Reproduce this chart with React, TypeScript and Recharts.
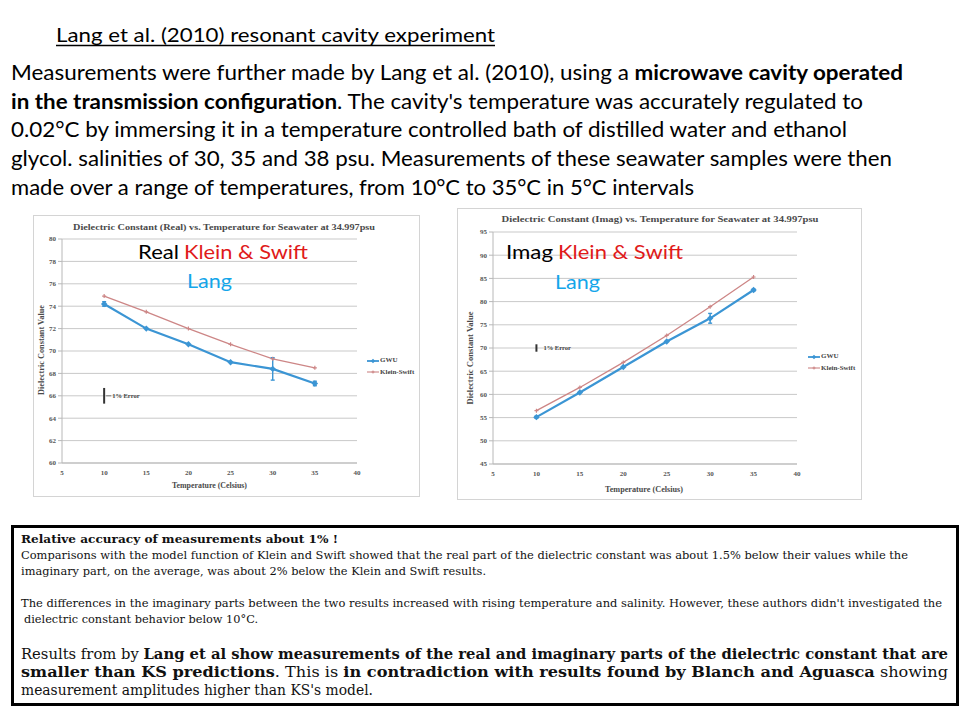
import React from "react";
import {
  LineChart,
  Line,
  XAxis,
  YAxis,
  CartesianGrid,
  ErrorBar,
  ReferenceLine,
  Legend,
} from "recharts";

const temps = [10, 15, 20, 25, 30, 35];
const xTicks = [5, 10, 15, 20, 25, 30, 35, 40];

const realGwu = [74.2, 72.0, 70.6, 69.0, 68.4, 67.1];
const realKs = [74.9, 73.5, 72.0, 70.6, 69.3, 68.5];
const realGwuErr = [0.2, 0, 0, 0, 1.0, 0.2];
const realTicks = [60, 62, 64, 66, 68, 70, 72, 74, 76, 78, 80];
const realOnePct = [65.3, 66.7];

const imagGwu = [55.1, 60.4, 65.9, 71.4, 76.4, 82.5];
const imagKs = [56.5, 61.5, 66.9, 72.7, 78.9, 85.3];
const imagGwuErr = [0.2, 0, 0, 0, 1.05, 0.2];
const imagTicks = [45, 50, 55, 60, 65, 70, 75, 80, 85, 90, 95];
const imagOnePct = [69.2, 70.8];

const onePctX = 10;

const BLUE = "#3b95d4";
const ROSE = "#cd8686";
const GRID = "#c9c9c9";
const SERIF = "'Liberation Serif', 'Times New Roman', serif";
const SANS = "Lato, 'Open Sans', sans-serif";
const CAMBRIA = "'DejaVu Serif', serif";

const realRows = temps.map((t, i) => ({ t, gwu: realGwu[i], ks: realKs[i], err: realGwuErr[i] }));
const imagRows = temps.map((t, i) => ({ t, gwu: imagGwu[i], ks: imagKs[i], err: imagGwuErr[i] }));

const tickStyle = { fontSize: 7, fontFamily: SERIF, fontWeight: 700, fill: "#555" };

const Diamond = (props: any) => {
  const { cx, cy } = props;
  if (cx == null || cy == null) return null;
  const r = 3.2;
  return <path d={`M${cx},${cy - r}L${cx + r},${cy}L${cx},${cy + r}L${cx - r},${cy}Z`} fill={BLUE} />;
};

const Cross = (props: any) => {
  const { cx, cy } = props;
  if (cx == null || cy == null) return null;
  const r = 2;
  return (
    <path
      d={`M${cx - r},${cy}L${cx + r},${cy}M${cx},${cy - r}L${cx},${cy + r}`}
      stroke={ROSE}
      strokeWidth={1.2}
    />
  );
};

const LegendBox = (props: any) => (
  <div style={{ fontFamily: SERIF, fontSize: 7, fontWeight: 700, color: "#444", lineHeight: "11.5px" }}>
    {(props.payload || []).map((p: any) => (
      <div key={p.value} style={{ display: "flex", alignItems: "center", whiteSpace: "nowrap" }}>
        <svg width={12} height={6} style={{ display: "block" }}>
          <line x1={0} x2={12} y1={3} y2={3} stroke={p.color} strokeWidth={p.value === "GWU" ? 1.8 : 1.1} />
          {p.value === "GWU" ? (
            <path d="M6,0.8L8.2,3L6,5.2L3.8,3Z" fill={p.color} />
          ) : (
            <path d="M4.5,3L7.5,3M6,1.5L6,4.5" stroke={p.color} strokeWidth={1} />
          )}
        </svg>
        <span style={{ marginLeft: 1 }}>{p.value}</span>
      </div>
    ))}
  </div>
);

const onePctLabel = (withDash: boolean) => (props: any) => {
  const vb = props.viewBox || {};
  const x = vb.x ?? 0;
  const cy = (vb.y ?? 0) + (vb.height ?? 0) / 2;
  return (
    <g>
      {withDash && <line x1={x + 2} x2={x + 7} y1={cy} y2={cy} stroke="#666" strokeWidth={0.8} />}
      <text x={x + (withDash ? 8 : 7)} y={cy} dy="0.35em" fontSize={6.5} fontWeight={700} fontFamily={SERIF} fill="#444">
        1% Error
      </text>
    </g>
  );
};

type PanelProps = {
  rows: any[];
  yTicks: number[];
  onePct: number[];
  width: number;
  height: number;
  margin: any;
  yWidth: number;
  legendPos: { left: number; top: number };
  dash: boolean;
};

function Panel({ rows, yTicks, onePct, width, height, margin, yWidth, legendPos, dash }: PanelProps) {
  const domain: [number, number] = [yTicks[0], yTicks[yTicks.length - 1]];
  return (
    <LineChart width={width} height={height} data={rows} margin={margin}>
      <CartesianGrid vertical={false} stroke={GRID} />
      <XAxis
        type="number"
        dataKey="t"
        domain={[5, 40]}
        ticks={xTicks}
        tick={tickStyle}
        tickLine={false}
        tickSize={6}
        tickMargin={1}
        axisLine={{ stroke: "#b8b8b8" }}
        height={20}
        interval={0}
      />
      <YAxis
        domain={domain}
        ticks={yTicks}
        tick={tickStyle}
        tickSize={4}
        tickMargin={2}
        tickLine={{ stroke: "#b8b8b8" }}
        axisLine={{ stroke: "#b8b8b8" }}
        width={yWidth}
        interval={0}
      />
      <YAxis
        yAxisId="r"
        orientation="right"
        domain={domain}
        tick={false}
        tickLine={false}
        axisLine={{ stroke: "#d0d0d0" }}
        width={0}
      />
      <ReferenceLine
        segment={[
          { x: onePctX, y: onePct[0] },
          { x: onePctX, y: onePct[1] },
        ]}
        stroke="#333"
        strokeWidth={2}
        label={{ content: onePctLabel(dash) }}
      />
      <Line
        dataKey="ks"
        name="Klein-Swift"
        stroke={ROSE}
        strokeWidth={1.3}
        dot={<Cross />}
        activeDot={false}
        isAnimationActive={false}
      />
      <Line
        dataKey="gwu"
        name="GWU"
        stroke={BLUE}
        strokeWidth={2.2}
        dot={<Diamond />}
        activeDot={false}
        isAnimationActive={false}
      >
        <ErrorBar dataKey="err" direction="y" width={2} stroke={BLUE} strokeWidth={1.4} />
      </Line>
      <Legend
        layout="vertical"
        align="center"
        verticalAlign="middle"
        content={<LegendBox />}
        itemSorter={(item: any) => (item.value === "GWU" ? 0 : 1)}
        wrapperStyle={{ left: legendPos.left, top: legendPos.top, width: "auto", height: "auto" }}
      />
    </LineChart>
  );
}

export default function App() {
  return (
    <div style={{ position: "absolute", left: 0, top: 0, width: 960, height: 720, background: "#fff", overflow: "hidden" }}>
      <div
        style={{
          position: "absolute",
          left: 33,
          top: 215,
          width: 387,
          height: 282,
          border: "1px solid #d4d4d4",
          boxSizing: "border-box",
        }}
      >
        <Panel
          rows={realRows}
          yTicks={realTicks}
          onePct={realOnePct}
          width={385}
          height={280}
          margin={{ top: 23, right: 62, bottom: 13, left: 6 }}
          yWidth={22}
          legendPos={{ left: 333, top: 139 }}
          dash
        />
      </div>
      <div
        style={{
          position: "absolute",
          left: 457,
          top: 208,
          width: 405,
          height: 292,
          border: "1px solid #d4d4d4",
          boxSizing: "border-box",
        }}
      >
        <Panel
          rows={imagRows}
          yTicks={imagTicks}
          onePct={imagOnePct}
          width={403}
          height={290}
          margin={{ top: 23, right: 64, bottom: 15, left: 10 }}
          yWidth={25}
          legendPos={{ left: 350, top: 142 }}
          dash={false}
        />
      </div>

      <svg width={960} height={720} style={{ position: "absolute", left: 0, top: 0, pointerEvents: "none" }}>
        {/* slide heading + paragraph */}
        <g fontFamily={SANS} fill="#000">
          <text x={56} y={42} fontSize={20} textLength={439} lengthAdjust="spacingAndGlyphs">
            Lang et al. (2010) resonant cavity experiment
          </text>
          <line x1={56} x2={495} y1={45.5} y2={45.5} stroke="#000" strokeWidth={1.3} />
          <g fontSize={21}>
            <text x={11} y={80} textLength={892} lengthAdjust="spacingAndGlyphs">
              Measurements were further made by Lang et al. (2010), using a{" "}
              <tspan fontWeight={700}>microwave cavity operated</tspan>
            </text>
            <text x={11} y={108.7} textLength={852} lengthAdjust="spacingAndGlyphs">
              <tspan fontWeight={700}>in the transmission configuration</tspan>. The cavity's temperature was accurately
              regulated to
            </text>
            <text x={11} y={137.4} textLength={836} lengthAdjust="spacingAndGlyphs">
              0.02°C by immersing it in a temperature controlled bath of distilled water and ethanol
            </text>
            <text x={11} y={166.1} textLength={881} lengthAdjust="spacingAndGlyphs">
              glycol. salinities of 30, 35 and 38 psu. Measurements of these seawater samples were then
            </text>
            <text x={11} y={194.8} textLength={683} lengthAdjust="spacingAndGlyphs">
              made over a range of temperatures, from 10°C to 35°C in 5°C intervals
            </text>
          </g>
        </g>

        {/* chart titles and axis names */}
        <g fontFamily={SERIF} fontWeight={700} fill="#4a4a4a" textAnchor="middle">
          <text x={224} y={230} fontSize={9} textLength={302} lengthAdjust="spacingAndGlyphs">
            Dielectric Constant (Real) vs. Temperature for Seawater at 34.997psu
          </text>
          <text x={660} y={222} fontSize={9} textLength={317} lengthAdjust="spacingAndGlyphs">
            Dielectric Constant (Imag) vs. Temperature for Seawater at 34.997psu
          </text>
          <text x={209.5} y={488} fontSize={8} textLength={75} lengthAdjust="spacingAndGlyphs">
            Temperature (Celsius)
          </text>
          <text x={644} y={492} fontSize={8} textLength={78} lengthAdjust="spacingAndGlyphs">
            Temperature (Celsius)
          </text>
          <text transform="translate(44,350) rotate(-90)" fontSize={8} textLength={90} lengthAdjust="spacingAndGlyphs">
            Dielectric Constant Value
          </text>
          <text transform="translate(473,358) rotate(-90)" fontSize={8} textLength={93} lengthAdjust="spacingAndGlyphs">
            Dielectric Constant Value
          </text>
        </g>

        {/* overlay notes on the charts */}
        <g fontFamily={SANS} fontSize={20}>
          <text x={138} y={259} fill="#000" textLength={41} lengthAdjust="spacingAndGlyphs">Real</text>
          <text x={184} y={259} fill="#e01a1a" textLength={124} lengthAdjust="spacingAndGlyphs">Klein &amp; Swift</text>
          <text x={187} y={288} fill="#14a6ea" textLength={45} lengthAdjust="spacingAndGlyphs">Lang</text>
          <text x={506} y={259} fill="#000" textLength={47} lengthAdjust="spacingAndGlyphs">Imag</text>
          <text x={558} y={259} fill="#e01a1a" textLength={125} lengthAdjust="spacingAndGlyphs">Klein &amp; Swift</text>
          <text x={555} y={289} fill="#14a6ea" textLength={45} lengthAdjust="spacingAndGlyphs">Lang</text>
        </g>

        {/* bottom box */}
        <rect x={12.5} y={526.5} width={945} height={178} fill="none" stroke="#000" strokeWidth={3} />
        <g fontFamily={CAMBRIA} fill="#111">
          <g fontSize={11.5}>
            <text x={21} y={543} fontWeight={700} textLength={317} lengthAdjust="spacingAndGlyphs">
              Relative accuracy of measurements about 1% !
            </text>
            <text x={21} y={559} textLength={887} lengthAdjust="spacingAndGlyphs">
              Comparisons with the model function of Klein and Swift showed that the real part of the dielectric constant
              was about 1.5% below their values while the
            </text>
            <text x={21} y={575} textLength={465} lengthAdjust="spacingAndGlyphs">
              imaginary part, on the average, was about 2% below the Klein and Swift results.
            </text>
            <text x={21} y={607} textLength={921} lengthAdjust="spacingAndGlyphs">
              The differences in the imaginary parts between the two results increased with rising temperature and
              salinity. However, these authors didn't investigated the
            </text>
            <text x={24} y={623} textLength={234} lengthAdjust="spacingAndGlyphs">
              dielectric constant behavior below 10°C.
            </text>
          </g>
          <g fontSize={14.5}>
            <text x={21} y={659} textLength={927} lengthAdjust="spacingAndGlyphs">
              Results from by{" "}
              <tspan fontWeight={700}>
                Lang et al show measurements of the real and imaginary parts of the dielectric constant that are
              </tspan>
            </text>
            <text x={21} y={677} textLength={927} lengthAdjust="spacingAndGlyphs">
              <tspan fontWeight={700}>smaller than KS predictions</tspan>. This is{" "}
              <tspan fontWeight={700}>in contradiction with results found by Blanch and Aguasca</tspan> showing
            </text>
            <text x={21} y={695} textLength={352} lengthAdjust="spacingAndGlyphs">
              measurement amplitudes higher than KS's model.
            </text>
          </g>
        </g>
      </svg>
    </div>
  );
}
